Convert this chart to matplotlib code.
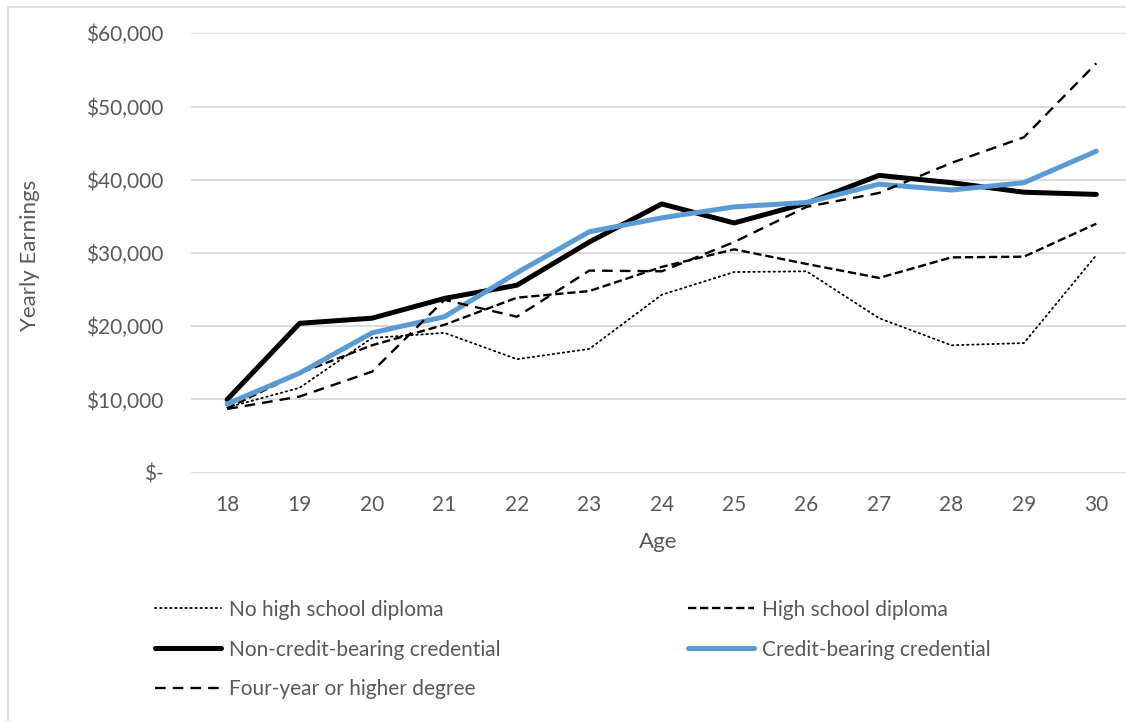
import matplotlib
matplotlib.use("Agg")
import matplotlib.pyplot as plt
from matplotlib.ticker import FuncFormatter

ages = [18, 19, 20, 21, 22, 23, 24, 25, 26, 27, 28, 29, 30]

no_hs = [8900, 11600, 18400, 19100, 15500, 16900, 24300, 27400, 27500, 21100, 17400, 17700, 29700]
hs = [8800, 13600, 17400, 20200, 23900, 24800, 28100, 30500, 28500, 26600, 29400, 29500, 34000]
non_credit = [10000, 20400, 21100, 23800, 25600, 31500, 36700, 34100, 36800, 40600, 39600, 38300, 38000]
credit = [9400, 13600, 19100, 21300, 27300, 32900, 34800, 36300, 36900, 39400, 38600, 39600, 43900]
four_year = [8700, 10400, 13800, 23600, 21300, 27600, 27500, 31500, 36300, 38200, 42300, 45800, 55900]

yticks = [0, 10000, 20000, 30000, 40000, 50000, 60000]

plt.rcParams["font.family"] = ["Lato", "DejaVu Sans"]
grey = "#595959"

fig = plt.figure(figsize=(11.26, 7.21), dpi=100)
ax = fig.add_axes([191 / 1126, 1 - 472.7 / 721, 1 - 191 / 1126, 439.4 / 721])

l1, = ax.plot(ages, no_hs, color="black", lw=1.3, linestyle=(0, (0.8, 2.0)),
              dash_capstyle="round", label="No high school diploma")
l2, = ax.plot(ages, hs, color="black", lw=1.7, linestyle=(0, (3.5, 1.6)),
              label="High school diploma")
l3, = ax.plot(ages, non_credit, color="black", lw=3.6, solid_capstyle="round",
              label="Non-credit-bearing credential")
l4, = ax.plot(ages, credit, color="#5B9BD5", lw=3.6, solid_capstyle="round",
              label="Credit-bearing credential")
l5, = ax.plot(ages, four_year, color="black", lw=1.7, linestyle=(0, (4.5, 3.0)),
              label="Four-year or higher degree")

ax.set_xlim(17.5, 30.41)
ax.set_ylim(0, 60000)
ax.set_xticks(ages)
ax.set_yticks(yticks)


def money(v, pos):
    if v == 0:
        return "$-"
    return "${:,.0f}".format(v)


ax.yaxis.set_major_formatter(FuncFormatter(money))
ax.grid(axis="y", color="#D9D9D9", lw=1.3)
ax.set_axisbelow(True)
for s in ax.spines.values():
    s.set_visible(False)
ax.tick_params(length=0, labelsize=15, colors=grey)
ax.tick_params(axis="y", pad=20)
ax.tick_params(axis="x", pad=16)

ax.set_xlabel("Age", fontsize=16, color=grey, labelpad=12)
fig.text(30 / 1126, 1 - 255 / 721, "Yearly Earnings", rotation=90, fontsize=16,
         color=grey, ha="center", va="center")

leg = fig.legend(handles=[l1, l3, l5, l2, l4], ncol=2, frameon=False,
                 loc="upper left", bbox_to_anchor=(136 / 1126, 1 - 581 / 721),
                 fontsize=15, handlelength=3.2, handletextpad=0.35,
                 columnspacing=9.0, labelspacing=0.95, labelcolor=grey)

# chart area border
fig.patches.append(plt.Rectangle((8 / 1126, -0.01), 1.02, 1 - 7 / 721 + 0.01,
                                 transform=fig.transFigure, fill=False,
                                 edgecolor="#D9D9D9", lw=1.2))

fig.savefig("out.png", dpi=100)
